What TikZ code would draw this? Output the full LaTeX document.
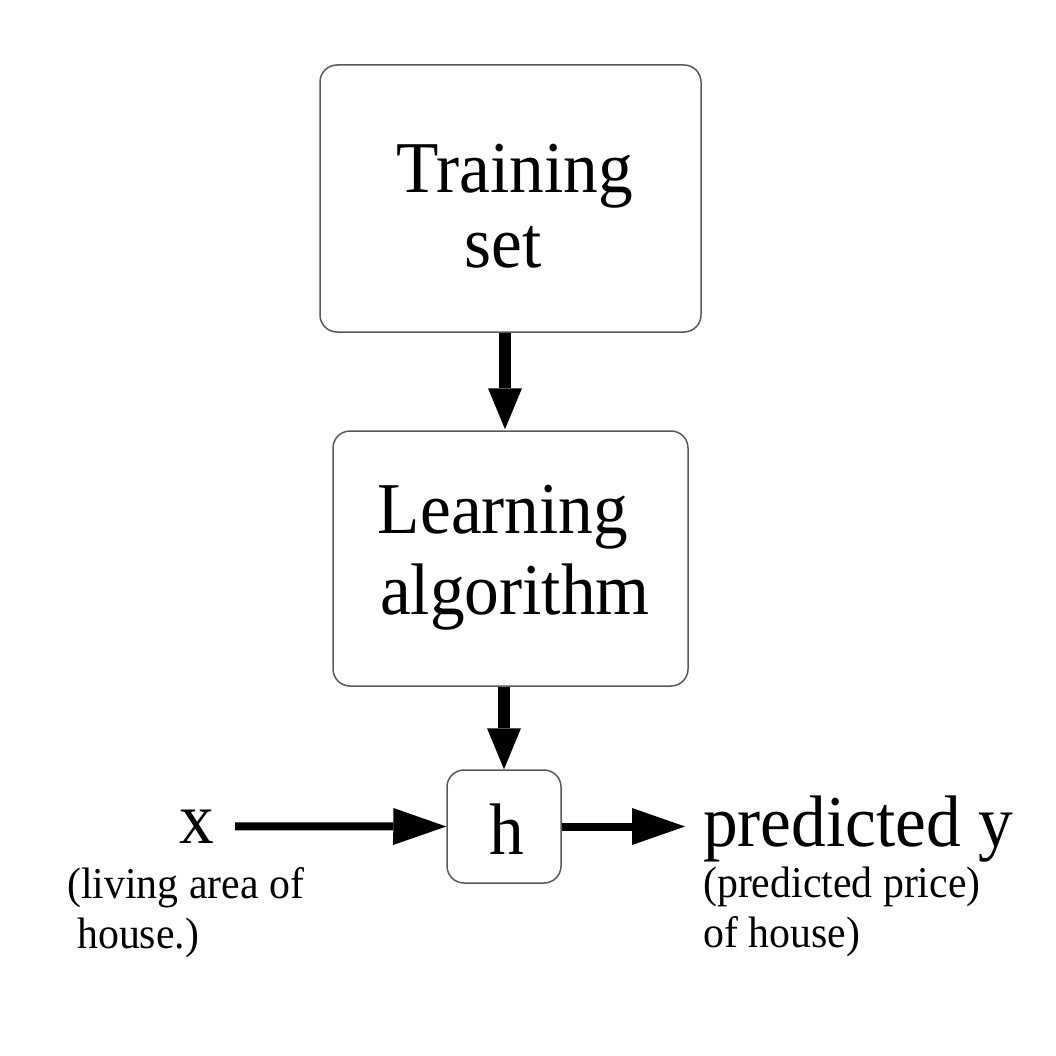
\documentclass[tikz,border=0pt]{standalone}
\usepackage{fontspec}
\setmainfont[FakeStretch=0.95]{Liberation Serif}
\usetikzlibrary{arrows.meta}
\tikzset{
  box/.style={draw=black!65, line width=1.5pt, rounded corners=17pt, inner sep=0pt},
  big/.style={inner sep=0pt, font=\fontsize{73}{80}\selectfont},
  small/.style={inner sep=0pt, font=\fontsize{44}{50}\selectfont},
  varrow/.style={line width=12pt, -{Triangle[length=41pt, width=34pt, line width=0pt]}},
  harrow/.style={line width=8pt, -{Triangle[length=53pt, width=37pt, line width=0pt]}},
}
\begin{document}
\begin{tikzpicture}[x=1pt, y=-1pt]
\useasboundingbox (0,0) rectangle (1056,1056);
% boxes
\node[box, minimum width=381pt, minimum height=267pt] (train) at (510.5,198.5) {};
\node[box, minimum width=355pt, minimum height=255pt] (learn) at (510.5,558.5) {};
\node[box, minimum width=114pt, minimum height=113pt] (h) at (504,826.5) {};
% texts
\node[big, anchor=base] (t1) at (515,193) {Training};
\node[big, anchor=base] (t2) at (503,268) {set};
\node[big, anchor=base] (l1) at (503,533) {Learning};
\node[big, anchor=base] (l2) at (515,614) {algorithm};
\node[big, anchor=base] (htext) at (506.5,854) {h};
\node[big, anchor=base] (xlab) at (197,843) {x};
\node[big, anchor=base west] (pred) at (703,846) {predicted y};
\node[small, anchor=base west] (xs1) at (67,898) {(living area of};
\node[small, anchor=base west] (xs2) at (77,948) {house.)};
\node[small, anchor=base west] (ys1) at (703,897) {(predicted price)};
\node[small, anchor=base west] (ys2) at (703,947) {of house)};
\coordinate (yin) at (685,826.5);
% connectors
\draw[varrow] ([xshift=-5.5pt]train.south) -- ([xshift=-5.5pt,yshift=1pt]learn.north);
\draw[varrow] ([xshift=-6.5pt]learn.south) -- (h.north);
\draw[harrow] ([xshift=20.7pt]xlab.east) -- (h.west);
\draw[harrow] (h.east) -- (yin);
\end{tikzpicture}
\end{document}
